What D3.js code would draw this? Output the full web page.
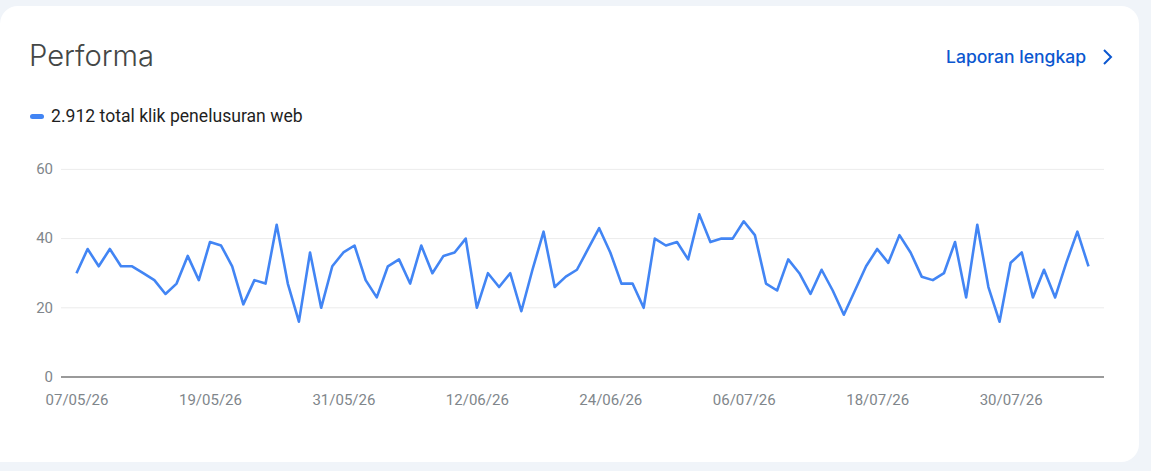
<!DOCTYPE html>
<html>
<head>
<meta charset="utf-8">
<script src="https://cdn.jsdelivr.net/npm/d3@7/dist/d3.min.js"></script>
<style>
html,body{margin:0;padding:0;background:#f0f4f9;overflow:hidden}
svg{display:block}
text{font-family:Roboto,sans-serif}
</style>
</head>
<body>
<svg id="c" width="1151" height="471"></svg>
<script>
const startDate = "07/05/26";
const endDate = "06/08/26";
const clicks = [30,37,32,37,32,32,30,28,24,27,35,28,39,38,32,21,28,27,44,27,16,36,20,32,36,38,28,23,
32,34,27,38,30,35,36,40,20,30,26,30,19,31,42,26,29,31,37,43,36,27,27,20,40,38,39,34,47,39,40,40,45,41,
27,25,34,30,24,31,25,18,25,32,37,33,41,36,29,28,30,39,23,44,26,16,33,36,23,31,23,33,42,32];
const yTicks = [0,20,40,60];
const xTickLabels = ["07/05/26","19/05/26","31/05/26","12/06/26","24/06/26","06/07/26","18/07/26","30/07/26"];
const titleText = "Performa";
const linkText = "Laporan lengkap";
const legendText = "2.912 total klik penelusuran web";

const svg = d3.select("#c");
const parse = d3.timeParse("%d/%m/%y"), fmt = d3.timeFormat("%d/%m/%y");
const days = d3.timeDay.range(parse(startDate), d3.timeDay.offset(parse(endDate), 1));

// card
svg.append("rect").attr("x",-20).attr("y",6).attr("width",1159).attr("height",456).attr("rx",18).attr("fill","#fff");
svg.append("path").attr("d","M0 24A18 18 0 0 1 18 6H0Z").attr("fill","#f0f4f9");

const L = 61, R = 1104;
const x = d3.scaleTime().domain([days[0], days[days.length-1]]).range([76.5,1088.5]);
const y = d3.scaleLinear().domain([0,60]).range([377,169.4]);

// header
svg.append("text").attr("x",29).attr("y",66).text(titleText)
  .attr("font-size",29.5).attr("font-weight",300).attr("fill","#444746").style("font-family","Inter,sans-serif")
  .attr("textLength",125).attr("lengthAdjust","spacingAndGlyphs");
svg.append("text").attr("x",946).attr("y",63).text(linkText)
  .attr("font-size",17).attr("font-weight",500).attr("fill","#0b57d0").style("font-family","Inter,sans-serif")
  .attr("textLength",140).attr("lengthAdjust","spacingAndGlyphs");
svg.append("path").attr("d","M1104 50L1111 57L1104 64").attr("fill","none").attr("stroke","#0b57d0").attr("stroke-width",2);

// legend
svg.append("rect").attr("x",30).attr("y",114).attr("width",14).attr("height",5).attr("rx",2.5).attr("fill","#4285f4");
svg.append("text").attr("x",51).attr("y",122).text(legendText).attr("font-size",17.6).attr("fill","#1f1f1f");

// y axis
const gy = svg.append("g").attr("transform",`translate(${L},0)`)
  .call(d3.axisLeft(y).tickValues(yTicks).tickSize(-(R-L)).tickPadding(8).offset(0));
gy.select(".domain").remove();
gy.selectAll(".tick line").attr("stroke",d=>d===0?"none":"#ececec").attr("stroke-width",1);
gy.selectAll(".tick text").attr("fill","#80868b").attr("font-size",15).style("font-family","Roboto,sans-serif");

// x axis
const gx = svg.append("g").attr("transform",`translate(0,${y(0)})`)
  .call(d3.axisBottom(x).tickValues(xTickLabels.map(parse)).tickFormat(fmt).tickSize(0).tickPadding(17));
gx.select(".domain").remove();
gx.selectAll(".tick text").attr("fill","#80868b").attr("font-size",15).style("font-family","Roboto,sans-serif");
svg.append("line").attr("x1",L).attr("x2",R).attr("y1",y(0)).attr("y2",y(0)).attr("stroke","#9a9a9a").attr("stroke-width",2);

// line
svg.append("path").datum(clicks)
  .attr("fill","none").attr("stroke","#4285f4").attr("stroke-width",2.6).attr("stroke-linejoin","round")
  .attr("d",d3.line().x((d,i)=>x(days[i])).y(d=>y(d)));
</script>
</body>
</html>
